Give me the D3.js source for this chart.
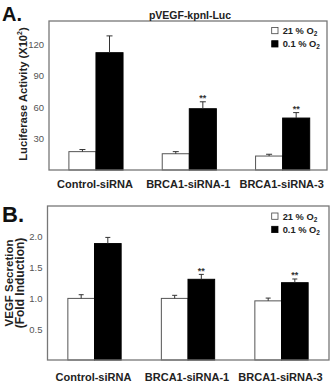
<!DOCTYPE html>
<html>
<head>
<meta charset="utf-8">
<script src="https://cdn.jsdelivr.net/npm/d3@7"></script>
<style>
  html, body { margin: 0; padding: 0; background: #fff; }
  svg { display: block; font-family: "Liberation Sans", Arial, sans-serif; }
</style>
</head>
<body>
<svg id="chart" width="333" height="385"></svg>
<script>
// ---- data ----
const categories = ["Control-siRNA", "BRCA1-siRNA-1", "BRCA1-siRNA-3"];
const seriesNames = ["21 % O", "0.1 % O"];
const significance = ["", "**", "**"];

const lucNormoxia = [17.5, 15.5, 13.3];
const lucNormoxiaErr = [2.0, 2.0, 1.7];
const lucHypoxia = [111.8, 58.4, 49.5];
const lucHypoxiaErr = [16.0, 6.6, 5.2];
const lucTicks = [30, 60, 90, 120];

const vegfNormoxia = [1.0, 1.0, 0.96];
const vegfNormoxiaErr = [0.06, 0.05, 0.045];
const vegfHypoxia = [1.89, 1.31, 1.255];
const vegfHypoxiaErr = [0.10, 0.08, 0.06];
const vegfTicks = [0.5, 1.0, 1.5, 2.0];

const svg = d3.select("#chart");

function panel(cfg) {
  const g = svg.append("g");
  const x = d3.scaleBand().domain(categories).range(cfg.xRange)
    .paddingInner(cfg.padInner).paddingOuter(cfg.padInner / 2);
  const x1 = d3.scaleBand().domain([0, 1]).range([0, x.bandwidth()]);
  const y = d3.scaleLinear().domain(cfg.yDomain).range([cfg.frame.y1, cfg.frame.y0]);

  const rows = categories.map((c, i) => ({
    cat: c, i,
    vals: [
      { s: 0, v: cfg.norm[i], e: cfg.normErr[i] },
      { s: 1, v: cfg.hyp[i], e: cfg.hypErr[i] }
    ]
  }));

  // bars
  const grp = g.selectAll("g.grp").data(rows).join("g")
    .attr("transform", d => `translate(${x(d.cat)},0)`);
  grp.selectAll("rect").data(d => d.vals).join("rect")
    .attr("x", d => x1(d.s))
    .attr("width", x1.bandwidth())
    .attr("y", d => y(d.v))
    .attr("height", d => y(0) - y(d.v))
    .attr("fill", d => d.s === 0 ? "#fff" : "#000")
    .attr("stroke", d => d.s === 0 ? "#555" : "#000")
    .attr("stroke-width", 1);
  // error bars
  const eb = grp.selectAll("g.eb").data(d => d.vals).join("g").attr("class", "eb");
  eb.append("line")
    .attr("x1", d => x1(d.s) + x1.bandwidth() / 2)
    .attr("x2", d => x1(d.s) + x1.bandwidth() / 2)
    .attr("y1", d => y(d.v)).attr("y2", d => y(d.v + d.e))
    .attr("stroke", "#333").attr("stroke-width", 1);
  eb.append("line")
    .attr("x1", d => x1(d.s) + x1.bandwidth() / 2 - cfg.cap / 2)
    .attr("x2", d => x1(d.s) + x1.bandwidth() / 2 + cfg.cap / 2)
    .attr("y1", d => y(d.v + d.e)).attr("y2", d => y(d.v + d.e))
    .attr("stroke", "#333").attr("stroke-width", 1);
  // significance
  grp.append("text")
    .attr("x", x1(1) + x1.bandwidth() / 2)
    .attr("y", d => y(d.vals[1].v + d.vals[1].e) - 0.5)
    .attr("text-anchor", "middle")
    .attr("font-size", 9).attr("font-weight", "bold").attr("fill", "#333")
    .text(d => significance[d.i]);

  // frame
  const f = cfg.frame;
  g.append("rect").attr("x", f.x0).attr("y", f.y0)
    .attr("width", f.x1 - f.x0).attr("height", f.y1 - f.y0)
    .attr("fill", "none").attr("stroke", "#777").attr("stroke-width", 1.3);

  // y axis
  const ax = g.append("g").attr("transform", `translate(${f.x0},0)`)
    .call(d3.axisLeft(y).tickValues(cfg.ticks).tickSize(0).tickPadding(5).tickFormat(cfg.fmt));
  ax.select(".domain").remove();
  ax.selectAll("text").attr("font-size", 9.5).attr("fill", "#555")
    .attr("font-family", "Liberation Sans, Arial, sans-serif");

  // x labels
  g.selectAll("text.xl").data(categories).join("text")
    .attr("class", "xl")
    .attr("x", d => x(d) + x.bandwidth() / 2 - 1)
    .attr("y", cfg.xLabelY)
    .attr("text-anchor", "middle")
    .attr("font-size", 11).attr("font-weight", "bold").attr("fill", "#222")
    .text(d => d);

  // legend
  seriesNames.forEach((s, i) => {
    const ly = cfg.legend.y + i * 13.3;
    g.append("rect").attr("x", cfg.legend.x).attr("y", ly - 3.3)
      .attr("width", 6.3).attr("height", 6.3)
      .attr("fill", i === 0 ? "#fff" : "#000").attr("stroke", i === 0 ? "#444" : "#000").attr("stroke-width", 0.8);
    const t = g.append("text").attr("x", cfg.legend.x + 11).attr("y", ly + 3.3)
      .attr("font-size", 9.3).attr("font-weight", "bold").attr("fill", "#222");
    t.append("tspan").text(s);
    t.append("tspan").attr("font-size", 6.5).attr("dy", 2).text("2");
  });

  // panel letter
  g.append("text").attr("x", 2).attr("y", cfg.letterY)
    .attr("font-size", cfg.letterSize).attr("font-weight", "bold").attr("fill", "#111")
    .text(cfg.letter);
  return { g, f };
}

// ---- Panel A ----
const A = panel({
  xRange: [49.3, 329.3], padInner: 0.42,
  yDomain: [0, 142], frame: { x0: 49, x1: 327, y0: 21, y1: 170 },
  norm: lucNormoxia, normErr: lucNormoxiaErr, hyp: lucHypoxia, hypErr: lucHypoxiaErr,
  ticks: lucTicks, fmt: d3.format("d"), cap: 6,
  xLabelY: 188, legend: { x: 271.7, y: 30.7 },
  letter: "A.", letterY: 21, letterSize: 20
});
A.g.append("text").attr("x", 190).attr("y", 19)
  .attr("text-anchor", "middle").attr("font-size", 10.5).attr("font-weight", "bold").attr("fill", "#222")
  .text("pVEGF-kpnI-Luc");
const ta = A.g.append("text").attr("transform", "translate(26.5,94) rotate(-90)")
  .attr("text-anchor", "middle").attr("font-size", 11.2).attr("font-weight", "bold").attr("fill", "#222");
ta.append("tspan").text("Luciferase Activity (X10");
ta.append("tspan").attr("font-size", 7).attr("dy", -5).text("2");
ta.append("tspan").attr("dy", 5).text(")");

// ---- Panel B ----
const B = panel({
  xRange: [47.75, 328.25], padInner: 0.43,
  yDomain: [0, 2.5], frame: { x0: 47.5, x1: 329, y0: 206, y1: 360 },
  norm: vegfNormoxia, normErr: vegfNormoxiaErr, hyp: vegfHypoxia, hypErr: vegfHypoxiaErr,
  ticks: vegfTicks, fmt: d3.format(".1f"), cap: 5,
  xLabelY: 380.5, legend: { x: 271.7, y: 216.3 },
  letter: "B.", letterY: 222, letterSize: 22
});
B.g.append("text").attr("transform", "translate(12.5,283) rotate(-90)")
  .attr("text-anchor", "middle").attr("font-size", 11.5).attr("font-weight", "bold").attr("fill", "#222")
  .text("VEGF Secretion");
B.g.append("text").attr("transform", "translate(23.5,283) rotate(-90)")
  .attr("text-anchor", "middle").attr("font-size", 12).attr("font-weight", "bold").attr("fill", "#222")
  .text("(Fold Induction)");
</script>
</body>
</html>
